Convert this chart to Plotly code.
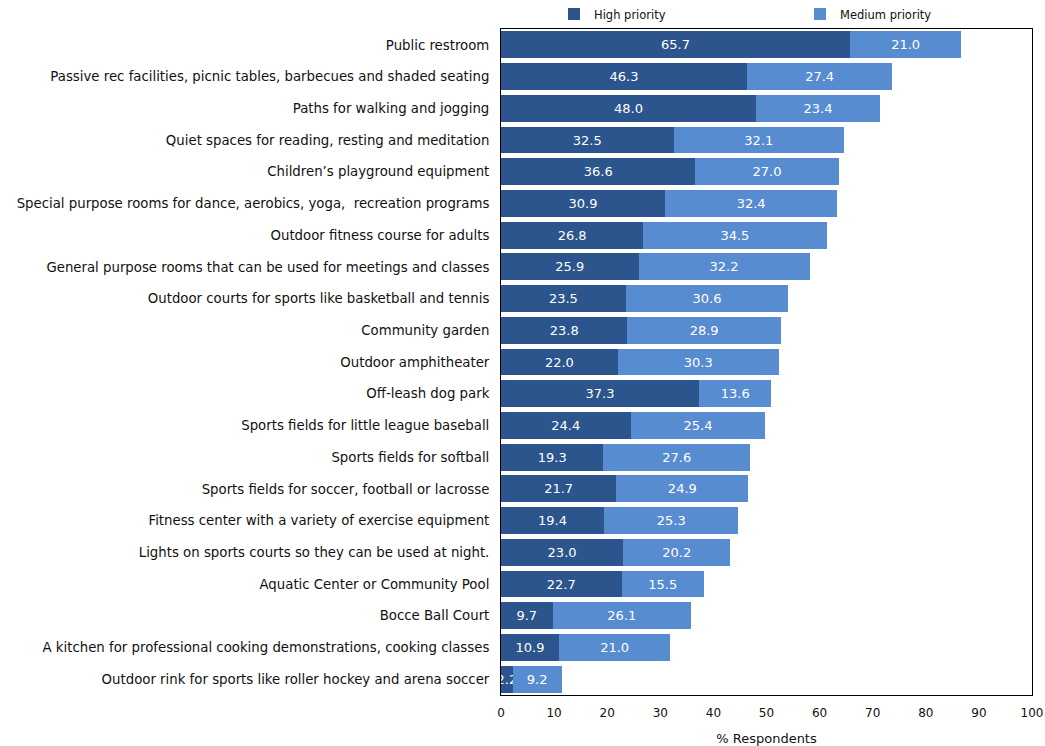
import plotly.graph_objects as go

categories = [
    "Public restroom",
    "Passive rec facilities, picnic tables, barbecues and shaded seating",
    "Paths for walking and jogging",
    "Quiet spaces for reading, resting and meditation",
    "Children’s playground equipment",
    "Special purpose rooms for dance, aerobics, yoga,  recreation programs",
    "Outdoor fitness course for adults",
    "General purpose rooms that can be used for meetings and classes",
    "Outdoor courts for sports like basketball and tennis",
    "Community garden",
    "Outdoor amphitheater",
    "Off-leash dog park",
    "Sports fields for little league baseball",
    "Sports fields for softball",
    "Sports fields for soccer, football or lacrosse",
    "Fitness center with a variety of exercise equipment",
    "Lights on sports courts so they can be used at night.",
    "Aquatic Center or Community Pool",
    "Bocce Ball Court",
    "A kitchen for professional cooking demonstrations, cooking classes",
    "Outdoor rink for sports like roller hockey and arena soccer",
]
high = [65.7, 46.3, 48.0, 32.5, 36.6, 30.9, 26.8, 25.9, 23.5, 23.8, 22.0,
        37.3, 24.4, 19.3, 21.7, 19.4, 23.0, 22.7, 9.7, 10.9, 2.2]
medium = [21.0, 27.4, 23.4, 32.1, 27.0, 32.4, 34.5, 32.2, 30.6, 28.9, 30.3,
          13.6, 25.4, 27.6, 24.9, 25.3, 20.2, 15.5, 26.1, 21.0, 9.2]
x_ticks = [0, 10, 20, 30, 40, 50, 60, 70, 80, 90, 100]

FONT = "DejaVu Sans"
fig = go.Figure()
fig.add_trace(go.Bar(
    y=categories, x=high, orientation="h", name="High priority",
    marker=dict(color="#2B558C", line=dict(width=0)),
    text=[f"{v:.1f}" for v in high], textposition="inside",
    insidetextanchor="middle", textangle=0,
    textfont=dict(color="white", size=13, family=FONT),
    legend="legend", showlegend=True,
))
fig.add_trace(go.Bar(
    y=categories, x=medium, orientation="h", name="Medium priority",
    marker=dict(color="#588CD0", line=dict(width=0)),
    text=[f"{v:.1f}" for v in medium], textposition="inside",
    insidetextanchor="middle", textangle=0,
    textfont=dict(color="white", size=13, family=FONT),
    legend="legend2", showlegend=True,
))
legend_common = dict(orientation="h", xref="container", yref="container",
                     xanchor="left", yanchor="middle", y=1 - 14 / 746,
                     font=dict(size=11.5, family=FONT, color="#111111"),
                     bgcolor="rgba(0,0,0,0)", borderwidth=0, visible=True)
fig.update_layout(
    showlegend=True,
    barmode="stack",
    bargap=0.15,
    width=1045, height=746,
    margin=dict(l=501, r=13, t=29, b=51, autoexpand=False),
    paper_bgcolor="white", plot_bgcolor="white",
    font=dict(family=FONT, size=13, color="#111111"),
    uniformtext=dict(minsize=13, mode="show"),
    legend=dict(x=(594 - 40) / 1045, **legend_common),
    legend2=dict(x=(840 - 40) / 1045, **legend_common),
    xaxis=dict(range=[0, 100], tickvals=x_ticks, showgrid=False,
               showline=True, linecolor="black", linewidth=1, mirror=True,
               ticks="", tickfont=dict(size=12), zeroline=False, automargin=False,
               ticklabelstandoff=7,
               title=dict(text="% Respondents", font=dict(size=13), standoff=15)),
    yaxis=dict(autorange="reversed", showgrid=False, showline=True,
               linecolor="black", linewidth=1, mirror=True, ticks="",
               automargin=False, ticklabelstandoff=8, tickfont=dict(size=13.3)),
)
fig.write_html("out.html",
               config={"displayModeBar": False},
               post_script="document.body.style.margin='0';")
